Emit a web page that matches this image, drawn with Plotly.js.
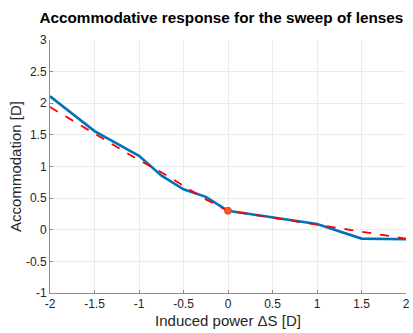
<!DOCTYPE html>
<html>
<head>
<meta charset="utf-8">
<script src="https://cdn.plot.ly/plotly-3.0.1.min.js"></script>
<style>html,body{margin:0;padding:0;background:#fff;}#chart{width:413px;height:333px;}</style>
</head>
<body>
<div id="chart"></div>
<script>
var measX = [-2, -1.5, -1, -0.75, -0.5, -0.25, 0, 0.5, 1, 1.5, 2];
var measY = [2.11, 1.56, 1.17, 0.86, 0.64, 0.52, 0.30, 0.20, 0.09, -0.14, -0.15];
var fitX = [-2, -1.5, -1, -0.75, -0.5, -0.25, 0, 0.5, 1, 1.5, 2];
var fitY = [1.94, 1.52, 1.10, 0.91, 0.70, 0.48, 0.30, 0.19, 0.09, -0.03, -0.14];
var refX = [0];
var refY = [0.30];
var xTicks = [-2, -1.5, -1, -0.5, 0, 0.5, 1, 1.5, 2];
var yTicks = [-1, -0.5, 0, 0.5, 1, 1.5, 2, 2.5, 3];

var FONT = 'Liberation Sans, Arial, Helvetica, sans-serif';
var traces = [
  {x: measX, y: measY, mode: 'lines', line: {color: '#0072BD', width: 2.6}, hoverinfo: 'none'},
  {x: fitX, y: fitY, mode: 'lines', line: {color: '#FF0000', width: 1.8, dash: 'dash'}, hoverinfo: 'none'},
  {x: refX, y: refY, mode: 'markers', marker: {color: '#E8602C', size: 7, line: {color: '#FF3B1F', width: 1}}, hoverinfo: 'none'}
];
var axisCommon = {
  showgrid: true, gridcolor: '#EBEBEB', gridwidth: 1,
  zeroline: false, showline: true, linecolor: '#8C8C8C', linewidth: 1,
  ticks: 'inside', ticklen: 3, tickcolor: '#8C8C8C',
  tickfont: {family: FONT, size: 12, color: '#262626'},
  mirror: false
};
var layout = {
  width: 413, height: 333,
  margin: {l: 50, r: 7, t: 40, b: 40},
  paper_bgcolor: '#fff', plot_bgcolor: '#fff',
  showlegend: false,
  title: {text: '<b>Accommodative response for the sweep of lenses</b>', x: 0.536, xanchor: 'center', y: 0.946, yanchor: 'middle',
          font: {family: FONT, size: 15.3, color: '#000'}},
  xaxis: Object.assign({}, axisCommon, {range: [-2, 2], tickvals: xTicks, ticktext: xTicks.map(String),
    title: {text: 'Induced power ΔS [D]', standoff: 5, font: {family: FONT, size: 15, color: '#262626'}}}),
  yaxis: Object.assign({}, axisCommon, {range: [-1, 3], tickvals: yTicks, ticktext: yTicks.map(String),
    title: {text: 'Accommodation [D]', standoff: 0, font: {family: FONT, size: 15, color: '#262626'}}})
};
Plotly.newPlot('chart', traces, layout, {staticPlot: true, displayModeBar: false});
</script>
</body>
</html>
